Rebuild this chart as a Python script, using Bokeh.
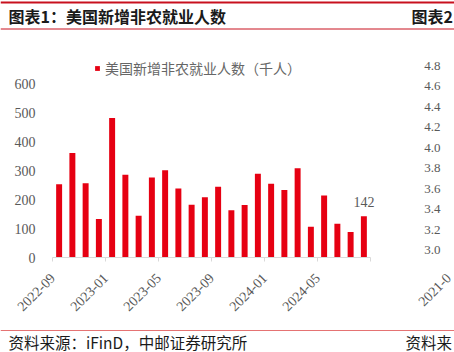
import math
from bokeh.plotting import figure
from bokeh.layouts import column, row
from bokeh.models import Range1d, FixedTicker, Label, Legend, LegendItem, ColumnDataSource
from bokeh.core.properties import value
from bokeh.embed import file_html
from bokeh.resources import INLINE

# ---- data ----
months = ["2022-09", "2022-10", "2022-11", "2022-12", "2023-01", "2023-02", "2023-03", "2023-04",
          "2023-05", "2023-06", "2023-07", "2023-08", "2023-09", "2023-10", "2023-11", "2023-12",
          "2024-01", "2024-02", "2024-03", "2024-04", "2024-05", "2024-06", "2024-07", "2024-08"]
payrolls = [253, 360, 256, 133, 481, 285, 144, 276, 301, 238, 182, 208,
            244, 163, 181, 289, 254, 233, 308, 106, 214, 116, 88, 142]
tick_labels = ["2022-09", "2023-01", "2023-05", "2023-09", "2024-01", "2024-05"]
y_ticks = [0, 100, 200, 300, 400, 500, 600]
series_name = "美国新增非农就业人数（千人）"
title_text = "图表1：美国新增非农就业人数"
source_text = "资料来源：iFinD，中邮证券研究所"
right_ticks = ["4.8", "4.6", "4.4", "4.2", "4.0", "3.8", "3.6", "3.4", "3.2", "3.0"]
right_date = "2021-0"

RED = "#E60012"
HEAD_RED = "#C8101E"
GRAY = "#595959"
SERIF = "Liberation Serif"
CJK = "Noto Sans CJK SC"


def strip_fig(w, h, y0, y1, **kw):
    f = figure(width=w, height=h, output_backend="svg", toolbar_location=None,
               x_range=Range1d(0, w), y_range=Range1d(y0, y1), **kw)
    f.grid.visible = False
    f.outline_line_color = None
    f.background_fill_color = "white"
    f.border_fill_color = "white"
    return f


# ---- header ----
head = strip_fig(454, 30, 30, 0, min_border=0, min_border_left=0, min_border_right=0,
                 min_border_top=0, min_border_bottom=0)
head.axis.visible = False
head.segment(x0=[0, 0], x1=[454, 454], y0=[2, 28.5], y1=[2, 28.5],
             line_color=HEAD_RED, line_width=[2, 1])
head.text(x=[8, 411], y=[15, 15], text=[title_text, "图表2"], text_font=value(CJK),
          text_font_size="16px", text_font_style="bold", text_color="#1A1A1A",
          text_baseline="middle")

# ---- main chart ----
n = len(months)
src = ColumnDataSource(dict(x=[i + 0.5 for i in range(n)], y=payrolls, m=months))
y_top = y_ticks[-1] * (257 - 35) / (257 - 83)
x_end = n + 6 / 13.25
p = figure(width=400, height=290, output_backend="svg", toolbar_location=None,
           x_range=Range1d(0, x_end), y_range=Range1d(0, y_top),
           min_border_left=52, min_border_right=24, min_border_top=5, min_border_bottom=63)
p.outline_line_color = None
p.grid.visible = False
p.background_fill_color = "white"
p.border_fill_color = "white"

r = p.vbar(x="x", top="y", width=0.45, source=src, fill_color=RED, line_color=None)

tick_pos = [months.index(t) for t in tick_labels]
p.xaxis.ticker = FixedTicker(ticks=tick_pos + [n])
overrides = {pos: lab for pos, lab in zip(tick_pos, tick_labels)}
overrides[n] = ""
p.xaxis.major_label_overrides = overrides
p.xaxis.bounds = (0, n)
p.xaxis.major_label_orientation = math.pi / 4
p.xaxis.axis_line_color = "#D9D9D9"
p.xaxis.major_tick_line_color = "#D9D9D9"
p.xaxis.major_tick_in = 0
p.xaxis.major_tick_out = 4
p.xaxis.minor_tick_line_color = None
p.xaxis.major_label_text_font = SERIF
p.xaxis.major_label_text_font_size = "14px"
p.xaxis.major_label_text_color = GRAY
p.xaxis.major_label_standoff = 14

p.yaxis.ticker = FixedTicker(ticks=y_ticks)
p.yaxis.axis_line_color = None
p.yaxis.major_tick_line_color = None
p.yaxis.major_tick_out = 0
p.yaxis.major_tick_in = 0
p.yaxis.minor_tick_line_color = None
p.yaxis.major_label_text_font = SERIF
p.yaxis.major_label_text_font_size = "14px"
p.yaxis.major_label_text_color = GRAY
p.yaxis.major_label_standoff = 17

p.add_layout(Label(x=n - 0.5, y=payrolls[-1], text=str(payrolls[-1]), y_offset=9,
                   text_align="center", text_baseline="bottom", text_font=SERIF,
                   text_font_size="14px", text_color=GRAY))

legend = Legend(items=[LegendItem(label=series_name, renderers=[r])], location=(42, 179),
                orientation="horizontal", glyph_width=6, glyph_height=6, label_standoff=5,
                label_text_font=CJK, label_text_font_size="14px", label_text_color="#666666",
                border_line_color=None, background_fill_alpha=0, padding=0, margin=0,
                label_height=14, label_text_baseline="middle")
p.add_layout(legend, "center")

# ---- neighbouring chart's axis labels (right edge) ----
strip = strip_fig(54, 290, 257, 35, min_border_left=0, min_border_right=0,
                  min_border_top=5, min_border_bottom=63)
strip.yaxis.visible = False
strip.xaxis.ticker = FixedTicker(ticks=[48])
strip.xaxis.major_label_overrides = {48: right_date}
strip.xaxis.axis_line_color = None
strip.xaxis.major_tick_line_color = None
strip.xaxis.minor_tick_line_color = None
strip.xaxis.major_tick_in = 0
strip.xaxis.major_tick_out = 4
strip.xaxis.major_label_orientation = math.pi / 4
strip.xaxis.major_label_text_font = SERIF
strip.xaxis.major_label_text_font_size = "14px"
strip.xaxis.major_label_text_color = GRAY
strip.xaxis.major_label_standoff = 14
strip.text(x=[40] * len(right_ticks), y=[65 + i * 20.5 for i in range(len(right_ticks))],
           text=right_ticks, text_font=value(SERIF), text_font_size="13px", text_color=GRAY,
           text_align="right", text_baseline="middle")

# ---- footer ----
foot = strip_fig(454, 32, 32, 0, min_border=0, min_border_left=0, min_border_right=0,
                 min_border_top=0, min_border_bottom=0)
foot.axis.visible = False
foot.segment(x0=[0], x1=[454], y0=[10], y1=[10], line_color="#E57373", line_width=1)
foot.text(x=[8, 405], y=[21, 21], text=[source_text, "资料来"], text_font=value(CJK),
          text_font_size="15.5px", text_color="#1A1A1A", text_baseline="middle")

layout = column(head, row(p, strip, spacing=0), foot, spacing=0)
open("out.html", "w").write(file_html(layout, INLINE))
